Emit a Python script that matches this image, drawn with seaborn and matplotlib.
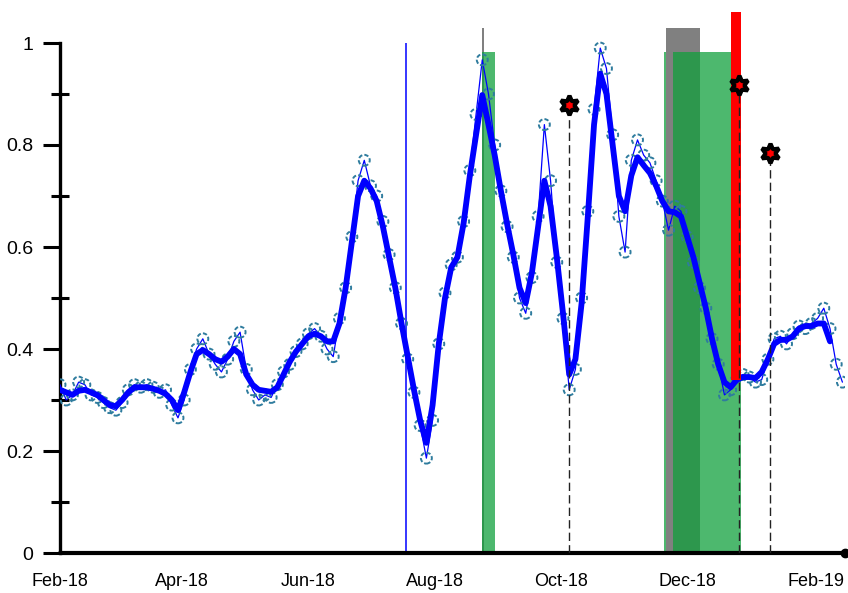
import numpy as np
import pandas as pd
import matplotlib
matplotlib.use("Agg")
import matplotlib.pyplot as plt
import matplotlib.dates as mdates
import seaborn as sns

nan = np.nan

# sampled every 3 days from 2018-02-01
dates = pd.date_range("2018-02-01", periods=127, freq="3D")

raw = [0.33, 0.30, 0.31, 0.335, 0.33, 0.31, 0.305, 0.295, 0.285, 0.28,
       0.295, 0.32, 0.33, 0.325, 0.33, 0.325, 0.315, 0.32, 0.29, 0.265,
       0.30, 0.36, 0.40, 0.42, 0.39, 0.37, 0.355, 0.38, 0.415, 0.433,
       0.36, 0.32, 0.30, 0.31, 0.305, 0.33, 0.355, 0.37, 0.395, 0.41,
       0.43, 0.44, 0.425, 0.40, 0.385, 0.46, 0.52, 0.62, 0.73, 0.77,
       0.72, 0.70, 0.65, 0.585, 0.52, 0.45, 0.38, 0.315, 0.25, 0.186,
       0.26, 0.41, 0.51, 0.565, 0.58, 0.65, 0.75, 0.86, 0.967, 0.90,
       0.80, 0.71, 0.64, 0.58, 0.50, 0.47, 0.54, 0.66, 0.84, 0.73,
       0.57, 0.46, 0.32, 0.36, 0.50, 0.67, 0.87, 0.99, 0.95, 0.82,
       0.66, 0.59, 0.77, 0.81, 0.78, 0.765, 0.73, 0.69, 0.633, 0.68,
       0.67, 0.62, 0.57, 0.52, 0.48, 0.42, 0.37, 0.31, 0.32, 0.345,
       0.35, 0.345, 0.335, 0.34, 0.38, 0.42, 0.425, 0.41, 0.43, 0.445,
       0.44, 0.45, 0.46, 0.48, 0.44, 0.37, 0.335]

smooth = [0.32, 0.315, 0.31, 0.318, 0.32, 0.315, 0.31, 0.30, 0.29, 0.288,
          0.30, 0.315, 0.325, 0.325, 0.325, 0.322, 0.318, 0.312, 0.30, 0.28,
          0.315, 0.355, 0.39, 0.398, 0.39, 0.38, 0.375, 0.385, 0.40, 0.39,
          0.35, 0.33, 0.32, 0.318, 0.316, 0.325, 0.35, 0.375, 0.395, 0.41,
          0.425, 0.43, 0.425, 0.415, 0.415, 0.45, 0.52, 0.61, 0.70, 0.73,
          0.715, 0.69, 0.64, 0.58, 0.52, 0.45, 0.385, 0.32, 0.26, 0.216,
          0.29, 0.41, 0.50, 0.56, 0.58, 0.647, 0.74, 0.82, 0.898, 0.84,
          0.78, 0.71, 0.645, 0.585, 0.52, 0.49, 0.55, 0.64, 0.73, 0.68,
          0.58, 0.47, 0.35, 0.38, 0.49, 0.66, 0.84, 0.94, 0.90, 0.80,
          0.70, 0.67, 0.74, 0.776, 0.76, 0.745, 0.72, 0.69, 0.67, 0.668,
          0.66, 0.62, 0.58, 0.53, 0.48, 0.42, 0.37, 0.335, 0.325, 0.34,
          0.345, 0.345, 0.343, 0.355, 0.38, 0.41, 0.418, 0.418, 0.425, 0.44,
          0.445, 0.445, 0.45, 0.45, 0.415, nan, nan]

# event periods
gray_start = ["2018-08-24", "2018-11-21"]
gray_days = [1, 16]
gray_top = 1.03

green_start = ["2018-08-24", "2018-11-20", "2018-11-24"]
green_days = [6, 1, 33]
green_top = 0.982

red_start = ["2018-12-22"]
red_days = [5]
red_bottom = 0.34
red_top = 1.06

blue_line_date = ["2018-07-18"]
blue_line_top = 1.0

star_dates = ["2018-10-05", "2018-12-26", "2019-01-10"]
star_values = [0.878, 0.918, 0.784]

df = pd.DataFrame({"date": dates, "raw": raw, "smooth": smooth})

sns.set_style("white")
plt.rcParams["font.family"] = ["Liberation Sans", "DejaVu Sans"]

fig = plt.figure(figsize=(8.48, 5.93), dpi=100)
ax = fig.add_axes([60 / 848, 40 / 593, 784.5 / 848, 1.07 * 510 / 593])

# shaded periods
ax.bar(pd.to_datetime(gray_start), [gray_top] * len(gray_start),
       width=pd.to_timedelta(gray_days, unit="D"), align="edge",
       color="#808080", linewidth=0, zorder=1)
ax.bar(pd.to_datetime(green_start), [green_top] * len(green_start),
       width=pd.to_timedelta(green_days, unit="D"), align="edge",
       color="#11a03d", alpha=0.75, linewidth=0, zorder=2)

ax.vlines(pd.to_datetime(blue_line_date), 0, blue_line_top, color="#0000ff", lw=1.1, zorder=2)

# data
sns.lineplot(data=df, x="date", y="raw", ax=ax, color="#0000ff", lw=0.9, zorder=3)
sns.scatterplot(data=df, x="date", y="raw", ax=ax, s=62, facecolors="none",
                edgecolor="#2f7c9e", linewidth=1.4, linestyle=(0, (2.2, 1.1)), zorder=4)
sns.lineplot(data=df, x="date", y="smooth", ax=ax, color="#0000ff", lw=4.2, zorder=5)

ax.bar(pd.to_datetime(red_start), [red_top - red_bottom], bottom=red_bottom,
       width=pd.to_timedelta(red_days, unit="D"), align="edge",
       color="#ff0000", linewidth=0, zorder=6)

# flagged points
ax.vlines(pd.to_datetime(star_dates), 0, star_values, colors="#222222",
          linestyles=(0, (6, 3)), lw=1, zorder=7)
ax.plot(pd.to_datetime(star_dates), star_values, ls="none", marker=(6, 1, 0),
        ms=14, mfc="#ff0000", mec="black", mew=3, zorder=8, clip_on=False)

ax.set_xlim(pd.Timestamp("2018-02-01"), pd.Timestamp("2019-02-15"))
ax.set_ylim(0, 1.07)
ax.set_xlabel("")
ax.set_ylabel("")

ax.xaxis.set_major_locator(mdates.MonthLocator(bymonth=[2, 4, 6, 8, 10, 12]))
ax.xaxis.set_minor_locator(mdates.MonthLocator())
ax.xaxis.set_major_formatter(mdates.DateFormatter("%b-%y"))
ax.set_yticks([0, 0.2, 0.4, 0.6, 0.8, 1.0])
ax.set_yticklabels(["0", "0.2", "0.4", "0.6", "0.8", "1"])
ax.set_yticks([0.1, 0.3, 0.5, 0.7, 0.9], minor=True)

ax.tick_params(axis="x", which="major", direction="inout", length=25, width=2.2,
               labelsize=13, pad=2, color="black", labelcolor="black")
ax.tick_params(axis="x", which="minor", direction="inout", length=13, width=2.2, color="black")
ax.tick_params(axis="y", which="major", direction="out", length=12, width=2.2,
               labelsize=14, pad=7, color="black", labelcolor="black", left=True)
ax.tick_params(axis="y", which="minor", direction="inout", length=13, width=2.2,
               color="black", left=True)

for side in ["top", "right"]:
    ax.spines[side].set_visible(False)
ax.spines["left"].set_bounds(0, 1)
ax.spines["left"].set_linewidth(2.4)
ax.spines["left"].set_color("black")
ax.spines["bottom"].set_linewidth(3)
ax.spines["bottom"].set_color("black")
ax.spines["bottom"].set_capstyle("round")
ax.plot([1], [0], "o", ms=6, color="black", transform=ax.transAxes, clip_on=False)

if ax.get_legend():
    ax.get_legend().remove()

fig.savefig("out.png", dpi=100)
